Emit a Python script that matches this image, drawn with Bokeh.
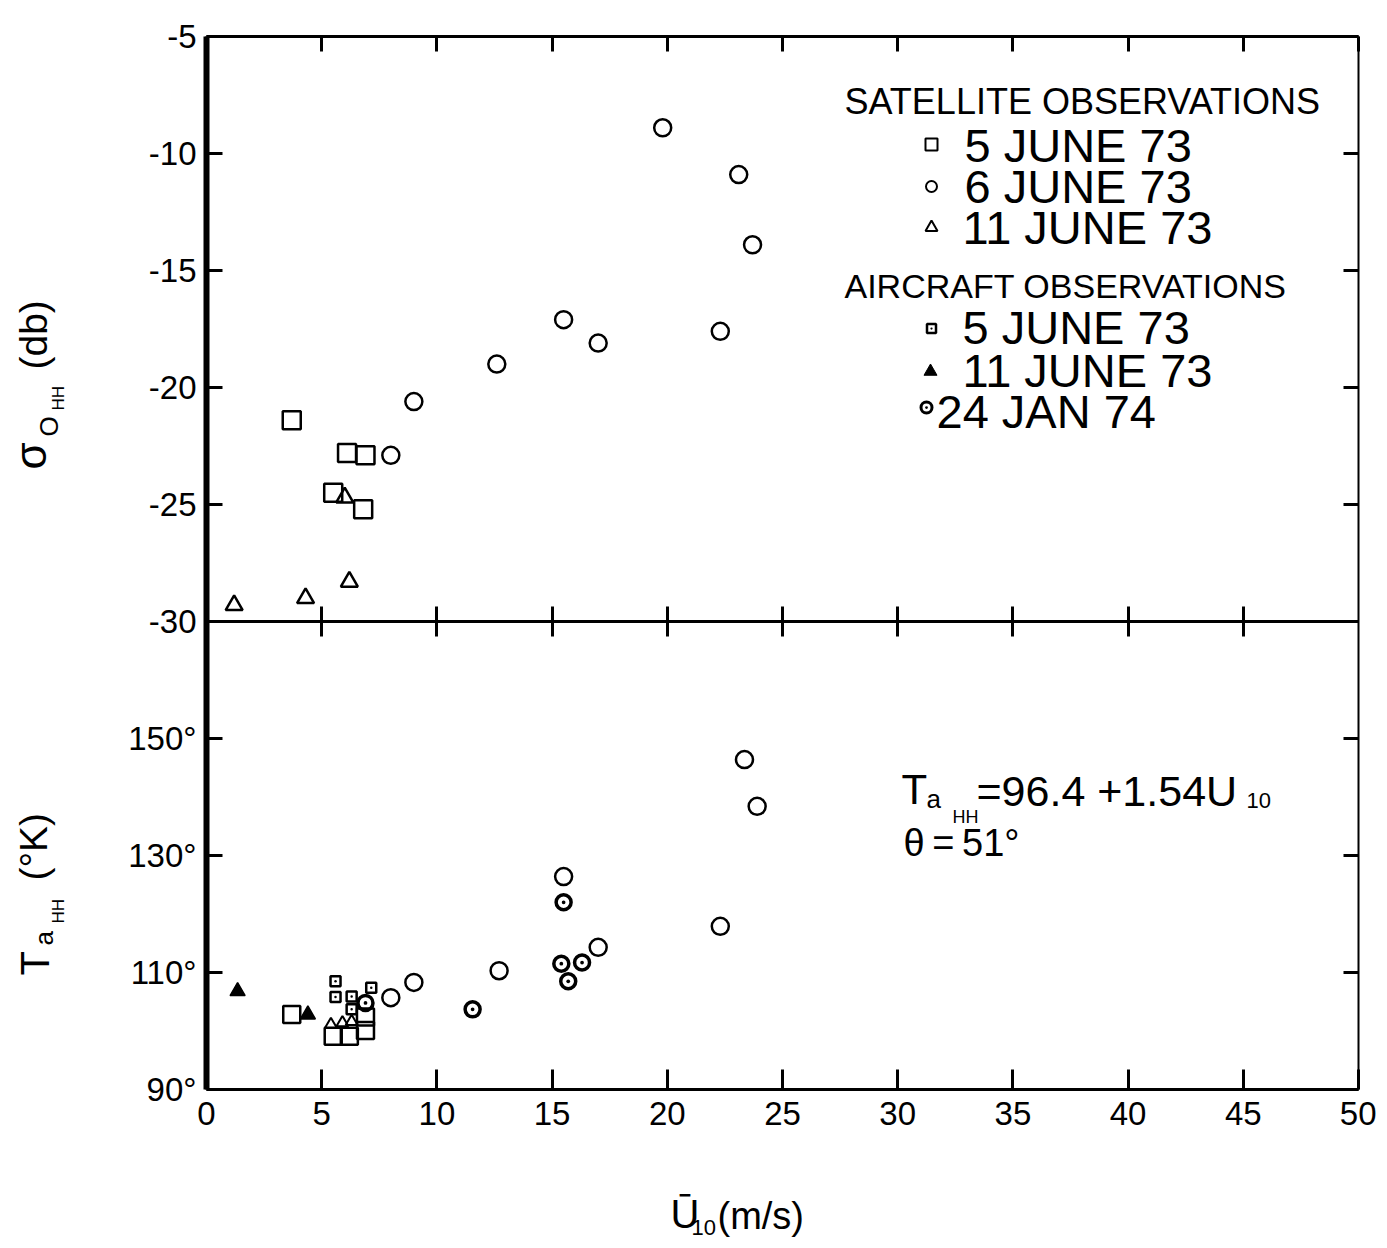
import numpy as np
from bokeh.plotting import figure
from bokeh.models import Range1d, LinearAxis, FixedTicker, Label
from bokeh.embed import file_html
from bokeh.resources import INLINE

# ---------------- data ----------------
U_TICKS = [0, 5, 10, 15, 20, 25, 30, 35, 40, 45, 50]
SIGMA_TICKS = [-30, -25, -20, -15, -10, -5]
T_TICKS = [90, 110, 130, 150]

# upper panel: sigma_0 HH (db) vs U10
sat_jun5_u = [3.7, 5.5, 6.1, 6.8, 6.9]
sat_jun5_sigma = [-21.4, -24.5, -22.8, -25.2, -22.9]
sat_jun6_u = [19.8, 23.1, 23.7, 15.5, 17.0, 22.3, 12.6, 9.0, 8.0]
sat_jun6_sigma = [-8.9, -10.9, -13.9, -17.1, -18.1, -17.6, -19.0, -20.6, -22.9]
sat_jun11_u = [1.2, 4.3, 6.2, 6.0]
sat_jun11_sigma = [-29.3, -29.0, -28.3, -24.7]

# lower panel: T_a HH (K) vs U10
sat_jun5_u_t = [3.7, 5.5, 6.2, 6.9, 6.9]
sat_jun5_t = [102.8, 99.1, 99.1, 100.1, 102.4]
sat_jun6_u_t = [23.35, 23.9, 15.5, 22.3, 17.0, 12.7, 9.0, 8.0]
sat_jun6_t = [146.4, 138.4, 126.4, 117.9, 114.3, 110.3, 108.3, 105.7]
sat_jun11_u_t = [5.4, 5.9, 6.3]
sat_jun11_t = [101.1, 101.4, 101.6]
air_jun5_u = [5.6, 5.6, 6.3, 6.3, 7.15]
air_jun5_t = [108.5, 105.8, 105.9, 103.7, 107.4]
air_jun11_u = [1.35, 4.4]
air_jun11_t = [106.8, 102.8]
air_jan24_u = [15.5, 15.4, 16.3, 15.7, 11.55, 6.9]
air_jan24_t = [122.0, 111.5, 111.7, 108.5, 103.7, 104.8]

# ---------------- layout (page pixels) ----------------
PLOT_L, PLOT_R, PLOT_T, PLOT_B = 207, 1359, 37, 1090
CANVAS_X0, CANVAS_Y0 = 1, 1
FIG_W, FIG_H = 1376, 1245
U_MAX = U_TICKS[-1]
SIG_TOP, SIG_BOT = -5.0, -50.0      # sigma axis spans the whole box; -30 is the divider
T_BOT, T_TOP = 90.0, 270.0          # T axis spans the whole box; 170 is the divider

PPU_X = (PLOT_R - PLOT_L) / U_MAX
PPU_SIG = (PLOT_B - PLOT_T) / (SIG_TOP - SIG_BOT)
PPU_T = (PLOT_B - PLOT_T) / (T_TOP - T_BOT)


def px_x(px):
    return (px - PLOT_L) / PPU_X


def px_sig(py):
    return SIG_TOP - (py - PLOT_T) / PPU_SIG


def px_t(py):
    return T_BOT + (PLOT_B - py) / PPU_T


def t_to_sig(v):
    return px_sig(PLOT_B - (v - T_BOT) * PPU_T)


FONT = "Liberation Sans"

p = figure(width=FIG_W, height=FIG_H,
           x_range=Range1d(px_x(CANVAS_X0), px_x(CANVAS_X0 + FIG_W)),
           y_range=Range1d(px_sig(CANVAS_Y0 + FIG_H), px_sig(CANVAS_Y0)),
           output_backend="svg", toolbar_location=None,
           x_axis_location=None, y_axis_location=None,
           min_border=0, min_border_left=0, min_border_right=0,
           min_border_top=0, min_border_bottom=0)
p.extra_y_ranges = {"T": Range1d(px_t(CANVAS_Y0 + FIG_H), px_t(CANVAS_Y0))}
p.grid.grid_line_color = None
p.outline_line_color = None
p.background_fill_color = "white"
p.border_fill_color = "white"

left_ticks = SIGMA_TICKS + [t_to_sig(v) for v in T_TICKS]
overrides = {v: str(v) for v in SIGMA_TICKS}
for v in T_TICKS:
    overrides[t_to_sig(v)] = f"{v}°"


def make_axis(ticks, loc, bounds, tick_in, tick_out, line_w, labels=None, standoff=10):
    ax = LinearAxis(ticker=FixedTicker(ticks=ticks), fixed_location=loc, bounds=bounds)
    ax.major_tick_in = tick_in
    ax.major_tick_out = tick_out
    ax.minor_tick_line_color = None
    ax.axis_line_width = line_w
    ax.major_tick_line_width = 3
    ax.axis_line_color = "black"
    ax.major_tick_line_color = "black"
    if labels is not None:
        ax.major_label_overrides = labels
        ax.major_label_text_font = FONT
        ax.major_label_text_font_size = "33px"
        ax.major_label_text_color = "black"
        ax.major_label_standoff = standoff
    else:
        ax.major_label_text_font_size = "0px"
        ax.major_label_text_alpha = 0
        ax.major_label_standoff = 0
    return ax


sig_bounds = (SIG_BOT, SIG_TOP)
u_bounds = (U_TICKS[0], U_MAX)
p.add_layout(make_axis(left_ticks, U_TICKS[0], sig_bounds, 16, 0, 6, overrides, 10), "left")
p.add_layout(make_axis(left_ticks, U_MAX, sig_bounds, 15, 0, 2), "right")
p.add_layout(make_axis(U_TICKS, SIG_TOP, u_bounds, 15, 0, 3), "above")
p.add_layout(make_axis(U_TICKS, SIG_BOT, u_bounds, 20, 0, 3,
                       {v: str(v) for v in U_TICKS}, 12), "below")
# divider between the panels (sigma = -30  <->  T = 170) with crossing ticks
p.add_layout(make_axis(U_TICKS[1:-1], SIGMA_TICKS[0], u_bounds, 15, 15, 3), "above")

# ---------------- data marks ----------------
LW = 2.5
p.scatter(sat_jun5_u, sat_jun5_sigma, marker="square", size=18, fill_color=None, line_color="black", line_width=LW)
p.scatter(sat_jun6_u, sat_jun6_sigma, marker="circle", size=17, fill_color=None, line_color="black", line_width=LW)
p.scatter(sat_jun11_u, sat_jun11_sigma, marker="triangle", size=17, fill_color=None, line_color="black", line_width=LW)

p.scatter(sat_jun5_u_t, sat_jun5_t, y_range_name="T", marker="square", size=17, fill_color=None, line_color="black", line_width=LW)
p.scatter(sat_jun6_u_t, sat_jun6_t, y_range_name="T", marker="circle", size=17, fill_color=None, line_color="black", line_width=LW)
p.scatter(sat_jun11_u_t, sat_jun11_t, y_range_name="T", marker="triangle", size=12, fill_color=None, line_color="black", line_width=2)
p.scatter(air_jun5_u, air_jun5_t, y_range_name="T", marker="square_dot", size=10, fill_color=None, line_color="black", line_width=2.5)
p.scatter(air_jun11_u, air_jun11_t, y_range_name="T", marker="triangle", size=15, fill_color="black", line_color="black", line_width=1.5)
p.scatter(air_jan24_u, air_jan24_t, y_range_name="T", marker="circle_dot", size=15, fill_color=None, line_color="black", line_width=3.5)


# ---------------- texts ----------------
def lab(text, px, py, size, angle=0.0, align="left"):
    p.add_layout(Label(x=px_x(px), y=px_sig(py), text=text, text_font=FONT,
                       text_font_size=f"{size}px", text_color="black", angle=angle,
                       text_align=align, text_baseline="middle"))


# legend
lab("SATELLITE OBSERVATIONS", 845, 102, 36)
lab("5 JUNE 73", 965, 146, 47)
lab("6 JUNE 73", 965, 187, 47)
lab("11 JUNE 73", 963, 228, 47)
lab("AIRCRAFT OBSERVATIONS", 845, 286, 34)
lab("5 JUNE 73", 963, 328, 47)
lab("11 JUNE 73", 963, 371, 47)
lab("24 JAN 74", 937, 412, 47)

p.scatter([px_x(932)], [px_sig(145)], marker="square", size=12, fill_color=None, line_color="black", line_width=2)
p.scatter([px_x(932)], [px_sig(187)], marker="circle", size=11, fill_color=None, line_color="black", line_width=2)
p.scatter([px_x(932)], [px_sig(228)], marker="triangle", size=12, fill_color=None, line_color="black", line_width=2)
p.scatter([px_x(932)], [px_sig(329)], marker="square_dot", size=9, fill_color=None, line_color="black", line_width=2.5)
p.scatter([px_x(931)], [px_sig(372)], marker="triangle", size=13, fill_color="black", line_color="black")
p.scatter([px_x(927)], [px_sig(408)], marker="circle_dot", size=11, fill_color=None, line_color="black", line_width=3)

# regression note
lab("T", 902, 790, 42)
lab("a", 927, 799, 26)
lab("HH", 953, 817, 18)
lab("=96.4 +1.54U", 977, 791, 43)
lab("10", 1247, 801, 22)
lab("θ\u2009=\u200951°", 904, 843, 38)

# y axis titles (rotated, reading upwards)
R = np.pi / 2
lab("σ", 31, 470, 44, angle=R)
lab("O", 49, 437, 26, angle=R)
lab("HH", 59, 411, 17, angle=R)
lab("(db)", 34, 370, 39, angle=R)

lab("T", 35, 976, 40, angle=R)
lab("a", 44, 946, 26, angle=R)
lab("HH", 59, 924, 17, angle=R)
lab("(°K)", 34, 881, 39, angle=R)

# x axis title
lab("Ū", 671, 1214, 40)
lab("10", 692, 1228, 22)
lab("(m/s)", 718, 1216, 38)

open("out.html", "w").write(file_html(p, INLINE))
